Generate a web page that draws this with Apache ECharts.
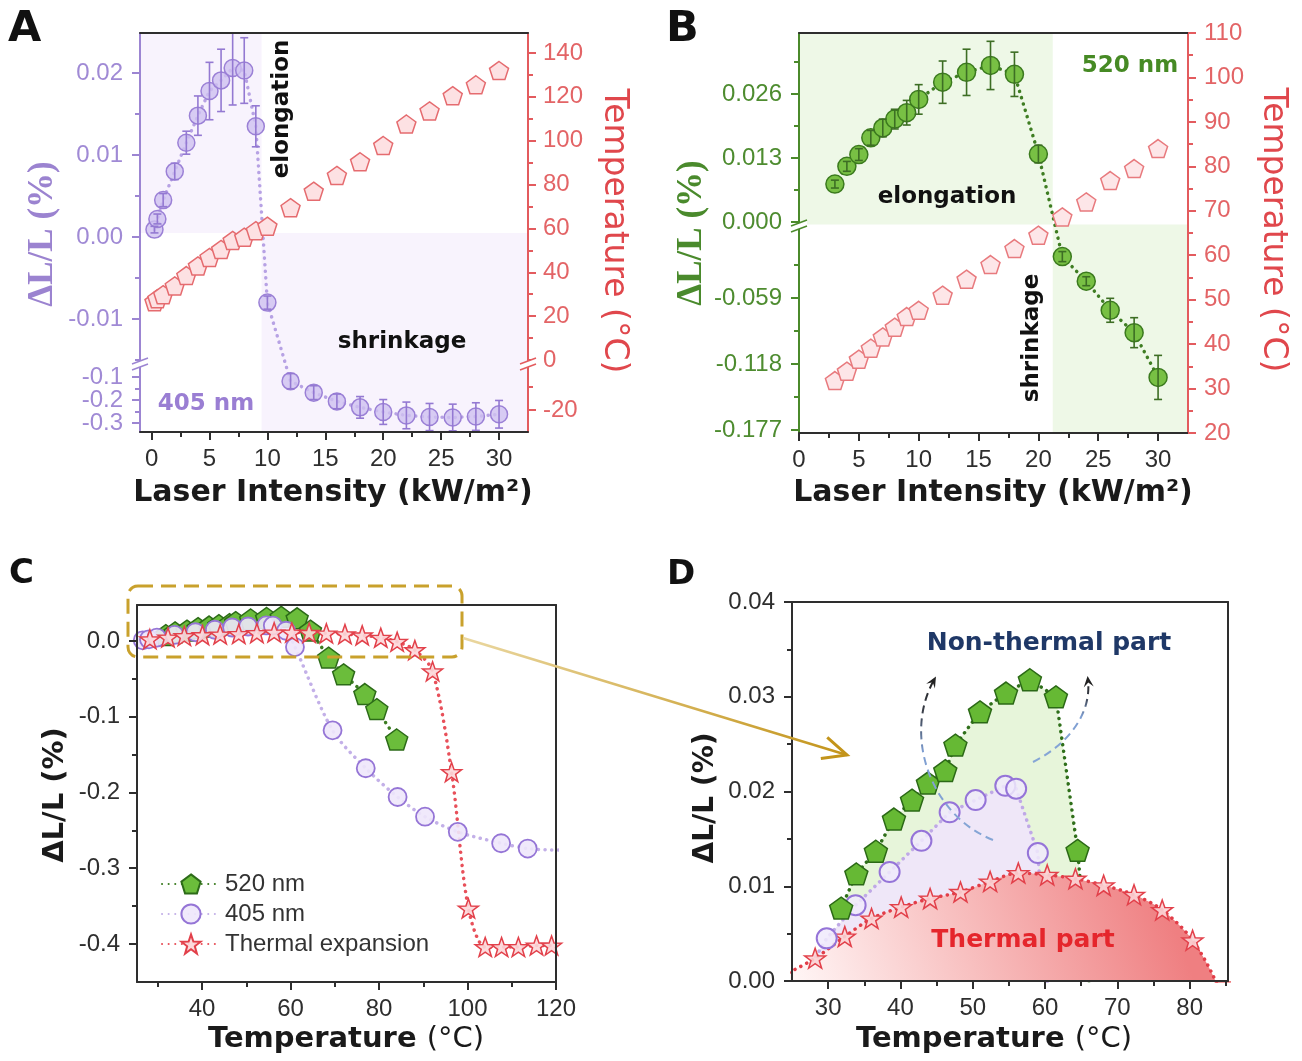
<!DOCTYPE html>
<html>
<head>
<meta charset="utf-8">
<title>Photothermal and non-thermal strain</title>
<script src="https://cdn.jsdelivr.net/npm/echarts@6.0.0/dist/echarts.min.js"></script>
<style>
  html, body { margin: 0; padding: 0; background: #ffffff; }
  #fig { width: 1302px; height: 1061px; }
</style>
</head>
<body>
<div id="fig"></div>
<script>
// ---------------- measured data ----------------
// 405 nm irradiation: laser intensity (kW/m2), strain ΔL/L (%), its error, film temperature (°C)
const intensity405 = [0.25, 0.5, 1, 2, 3, 4, 5, 6, 7, 8, 9, 10, 12, 14, 16, 18, 20, 22, 24, 26, 28, 30];
const strain405 = [0.0009, 0.0022, 0.0045, 0.0080, 0.0115, 0.0148, 0.0178, 0.0191, 0.0206, 0.0203, 0.0135, -0.0080,
  -0.118, -0.168, -0.206, -0.232, -0.252, -0.267, -0.274, -0.276, -0.272, -0.262];
const strainErr405 = [0.0004, 0.0006, 0.0008, 0.0010, 0.0014, 0.0024, 0.0035, 0.0038, 0.0045, 0.0040, 0.0025, 0.0008,
  0.033, 0.030, 0.032, 0.047, 0.054, 0.058, 0.059, 0.058, 0.060, 0.060];
const temp405 = [26.6, 28.0, 29.8, 33.8, 38.5, 42.9, 46.8, 50.4, 54.5, 56.0, 59.0, 61.0,
  69.5, 77.0, 84.2, 90.4, 97.8, 107.6, 113.6, 120.5, 125.5, 132.0];

// 520 nm irradiation
const intensity520 = [3, 4, 5, 6, 7, 8, 9, 10, 12, 14, 16, 18, 20, 22, 24, 26, 28, 30];
const strain520 = [0.0077, 0.0113, 0.0137, 0.0171, 0.0191, 0.0209, 0.0222, 0.0249, 0.0284, 0.0304, 0.0318, 0.0300,
  0.0138, -0.022, -0.044, -0.070, -0.090, -0.130];
const strainErr520 = [0.0008, 0.0010, 0.0012, 0.0015, 0.0018, 0.0020, 0.0025, 0.0030, 0.0043, 0.0047, 0.0049, 0.0045,
  0.0018, 0.0045, 0.0040, 0.0107, 0.0134, 0.0197];
const temp520 = [31.8, 33.9, 36.6, 39.1, 41.6, 43.8, 46.2, 47.6, 51.0, 54.6, 57.9, 61.5,
  64.5, 68.6, 72.0, 76.8, 79.5, 84.0];

// thermal expansion measured on a hot stage
const thermalTemp = [24.6, 28.2, 32.3, 36.0, 40.1, 44.1, 48.3, 52.4, 56.3, 60.3, 64.2, 68.1, 72.3, 76.2, 80.4,
  84.1, 88.1, 92.1, 96.4, 100.2, 104.0, 107.7, 111.5, 115.6, 119.0];
const thermalStrain = [0.0009, 0.0024, 0.0047, 0.0066, 0.0078, 0.0087, 0.0094, 0.0105, 0.0114, 0.0112, 0.0108, 0.0101,
  0.0091, 0.0075, 0.0043, -0.0010, -0.012, -0.040, -0.173, -0.353, -0.404, -0.404, -0.404, -0.402, -0.402];

// intensity / strain regimes shaded in panels A and B: [from, to, side (+1 elongation, -1 shrinkage)]
const regimes405 = [[-1, 9.5, 1], [9.5, 32.5, -1]];
const regimes520 = [[0, 21.2, 1], [21.2, 32.5, -1]];

// lowest temperature shown for the 405 nm points in the close-up
const closeUpFrom405 = 29;

// ---------------- tick values ----------------
const ticksIntensity = [0, 5, 10, 15, 20, 25, 30];
const minorIntensity = [2.5, 7.5, 12.5, 17.5, 22.5, 27.5];
const ticksStrainA = [-0.3, -0.2, -0.1, -0.01, 0, 0.01, 0.02];
const minorStrainA = [-0.25, -0.15, -0.015, -0.005, 0.005, 0.015];
const ticksTempA = [-20, 0, 20, 40, 60, 80, 100, 120, 140];
const minorTempA = [-10, 10, 30, 50, 70, 90, 110, 130];
const ticksStrainB = [-0.177, -0.118, -0.059, 0, 0.013, 0.026];
const minorStrainB = [-0.1475, -0.0885, -0.0295, 0.0065, 0.0195, 0.0325];
const ticksTempB = [20, 30, 40, 50, 60, 70, 80, 90, 100, 110];
const minorTempB = [25, 35, 45, 55, 65, 75, 85, 95, 105];
const ticksTempC = [40, 60, 80, 100, 120];
const minorTempC = [30, 50, 70, 90, 110];
const ticksStrainC = [-0.4, -0.3, -0.2, -0.1, 0];
const minorStrainC = [-0.35, -0.25, -0.15, -0.05];
const ticksTempD = [30, 40, 50, 60, 70, 80];
const minorTempD = [35, 45, 55, 65, 75, 85];
const ticksStrainD = [0, 0.01, 0.02, 0.03, 0.04];
const minorStrainD = [0.005, 0.015, 0.025, 0.035];

// ---------------- broken axes ----------------
// values above `cut` keep their units; values below are moved under the break and compressed by k
function makeBreak(cut, top, from, k) {
  return v => (v >= cut ? v : top - (from - v) * k);
}
const sqA = makeBreak(-0.03, -0.01561, -0.04783, 0.028049);   // panel A strain
const sqAT = makeBreak(-1, -2.28, -0.435, 1.0488);             // panel A temperature
const sqB = makeBreak(0, -0.002031, 0, 0.22722);               // panel B strain
const same = v => v;

// ---------------- styling ----------------
const SANS = '"Liberation Sans", Arial, sans-serif';
const HEAVY = '"DejaVu Sans", sans-serif';
const SERIF = '"Liberation Serif", "Times New Roman", serif';
const INK = '#2e2e2e';
const PURPLE = '#9c85d2';
const GREEN = '#4b8a2b';
const RED = '#e35b5e';
const PENTAGON = 'path://M10,0 L19.51,6.91 L15.88,18.09 L4.12,18.09 L0.49,6.91 Z';
const STAR = 'path://M10,0 L12.35,6.76 L19.51,6.91 L13.8,11.24 L15.88,18.09 L10,14 L4.12,18.09 L6.2,11.24 L0.49,6.91 L7.65,6.76 Z';
const DOTS = [0.1, 6.5];

const grids = [
  { left: 140, top: 33, width: 388, height: 399 },
  { left: 799, top: 33, width: 389, height: 400 },
  { left: 137, top: 605, width: 419, height: 377 },
  { left: 792, top: 602, width: 436, height: 379 }
].map(g => Object.assign({ show: false, containLabel: false, outerBoundsMode: 'none' }, g));

function fmtFactory(pairs) {
  return v => {
    let best = '', bd = Infinity;
    pairs.forEach(([d, t]) => { const e = Math.abs(d - v); if (e < bd) { bd = e; best = t; } });
    return best;
  };
}

// one axis; `labels` are [displayValue, text] pairs
function axis(o) {
  const labelVals = o.labels ? o.labels.map(p => p[0]) : [];
  return {
    type: 'value', gridIndex: o.grid, position: o.pos, min: o.min, max: o.max, z: 6,
    axisLine: { show: o.line !== false, onZero: false, lineStyle: { color: o.color, width: 2 } },
    axisTick: {
      show: !!o.ticks, inside: false, length: o.tickLen || 8,
      lineStyle: { color: o.color, width: 2 }, customValues: o.ticks || []
    },
    axisLabel: {
      show: !!o.labels, customValues: labelVals, formatter: o.labels ? fmtFactory(o.labels) : '',
      color: o.labelColor || INK, fontSize: 24, lineHeight: 16, fontFamily: SANS, margin: o.margin || 15,
      hideOverlap: false, showMinLabel: true, showMaxLabel: true
    },
    splitLine: { show: false }, minorTick: { show: false }, minorSplitLine: { show: false },
    silent: true
  };
}
const pairs = (vals, sq, fmt) => vals.map(v => [sq(v), fmt(v)]);
const fStrainA = v => (Math.abs(v) < 0.05 ? v.toFixed(2) : v.toFixed(1));

// x axes: for each panel a labelled bottom axis, a minor-tick axis and a plain top border
const X = [];
function xTrio(grid, min, max, ticks, minor) {
  X.push(axis({ grid, pos: 'bottom', min, max, color: INK, ticks, labels: ticks.map(t => [t, String(t)]), margin: 19 }));
  X.push(axis({ grid, pos: 'bottom', min, max, color: INK, ticks: minor, tickLen: 5, line: false }));
  X.push(axis({ grid, pos: 'top', min, max, color: INK }));
  return X.length - 3;
}
const xA = xTrio(0, -1, 32.5, ticksIntensity, minorIntensity);
const xB = xTrio(1, 0, 32.5, ticksIntensity, minorIntensity);
const xC = xTrio(2, 25.3, 120, ticksTempC, minorTempC);
const xD = xTrio(3, 25, 85.3, ticksTempD, minorTempD);

// y axes: a labelled major-tick axis plus a minor-tick axis; `spare` labels are carried by the
// minor axis so that tightly packed labels below a break are all kept
const Y = [];
function yAxisPair(grid, pos, min, max, ticks, minor, labels, color, labelColor, margin, spare) {
  const keep = spare ? labels.filter(p => !spare.some(s => s[0] === p[0])) : labels;
  Y.push(axis({ grid, pos, min, max, color, ticks, labels: keep, labelColor, margin }));
  Y.push(axis({ grid, pos, min, max, color, ticks: minor, tickLen: 5, line: false, labels: spare, labelColor, margin }));
  return Y.length - 2;
}
const labelsStrainA = pairs(ticksStrainA, sqA, fStrainA);
const yA = yAxisPair(0, 'left', -0.02378, 0.024878, ticksStrainA.map(sqA), minorStrainA.map(sqA),
  labelsStrainA, PURPLE, '#a08ad5', 17, labelsStrainA.filter(p => p[1] === '-0.2'));
const yAT = yAxisPair(0, 'right', -32.83, 149.12, ticksTempA.map(sqAT), minorTempA.map(sqAT),
  pairs(ticksTempA, sqAT, v => String(v)), RED, '#e36466', 15);
const yB = yAxisPair(1, 'left', -0.04286, 0.038391, ticksStrainB.map(sqB), minorStrainB.map(sqB),
  pairs(ticksStrainB, sqB, v => v.toFixed(3)), GREEN, '#4e8c30', 17);
const yBT = yAxisPair(1, 'right', 20, 110, ticksTempB, minorTempB,
  pairs(ticksTempB, same, v => String(v)), RED, '#e36466', 16);
const yC = yAxisPair(2, 'left', -0.4502, 0.0475, ticksStrainC, minorStrainC,
  pairs(ticksStrainC, same, v => v.toFixed(1)), INK, INK, 17);
Y.push(axis({ grid: 2, pos: 'right', min: -0.4502, max: 0.0475, color: INK }));
const yD = yAxisPair(3, 'left', 0, 0.04, ticksStrainD, minorStrainD,
  pairs(ticksStrainD, same, v => v.toFixed(2)), INK, INK, 17);
Y.push(axis({ grid: 3, pos: 'right', min: 0, max: 0.04, color: INK }));

// ---------------- series helpers ----------------
function regimeSeries(xi, yi, regimes, splitValue, color) {
  return {
    type: 'custom', xAxisIndex: xi, yAxisIndex: yi, z: 1, silent: true, clip: true,
    data: regimes,
    renderItem(params, api) {
      const cs = params.coordSys;
      const a = api.coord([api.value(0), splitValue]);
      const b = api.coord([api.value(1), splitValue]);
      const up = api.value(2) > 0;
      const y0 = up ? cs.y : a[1];
      const y1 = up ? a[1] : cs.y + cs.height;
      return { type: 'rect', shape: { x: a[0], y: y0, width: b[0] - a[0], height: y1 - y0 }, style: { fill: color } };
    }
  };
}

function errorSeries(xi, yi, xs, vs, es, sq, color) {
  return {
    type: 'custom', xAxisIndex: xi, yAxisIndex: yi, z: 4, silent: true, clip: true,
    data: xs.map((x, i) => [x, vs[i], es[i]]),
    renderItem(params, api) {
      const x = api.value(0), v = api.value(1), e = api.value(2);
      const a = api.coord([x, sq(v + e)]);
      const b = api.coord([x, sq(v - e)]);
      const st = { stroke: color, lineWidth: 1.6 };
      return {
        type: 'group', children: [
          { type: 'line', shape: { x1: a[0], y1: a[1], x2: b[0], y2: b[1] }, style: st },
          { type: 'line', shape: { x1: a[0] - 4, y1: a[1], x2: a[0] + 4, y2: a[1] }, style: st },
          { type: 'line', shape: { x1: b[0] - 4, y1: b[1], x2: b[0] + 4, y2: b[1] }, style: st }
        ]
      };
    }
  };
}

function curve(name, xi, yi, xs, vs, o) {
  return {
    type: 'line', name, xAxisIndex: xi, yAxisIndex: yi, z: o.z || 3, clip: true,
    data: xs.map((x, i) => [x, vs[i]]),
    symbol: o.symbol, symbolSize: o.size, symbolKeepAspect: true, showSymbol: o.symbol !== 'none',
    smooth: o.smooth || false,
    itemStyle: { color: o.fill, borderColor: o.stroke, borderWidth: o.bw || 1.5, opacity: 1 },
    lineStyle: o.noLine ? { width: 0, opacity: 0 } : { color: o.lineColor, width: 3.5, type: DOTS, cap: 'round' },
    areaStyle: o.area ? { color: o.area, opacity: 1 } : undefined,
    emphasis: { disabled: true }, silent: true
  };
}

function scatter(name, xi, yi, xs, vs, o) {
  const data = [];
  xs.forEach((x, i) => { if (!o.from || x >= o.from) data.push([x, vs[i]]); });
  return {
    type: 'scatter', name, xAxisIndex: xi, yAxisIndex: yi, z: o.z || 3, clip: true,
    data,
    symbol: o.symbol, symbolSize: o.size, symbolKeepAspect: true,
    itemStyle: { color: o.fill, borderColor: o.stroke, borderWidth: o.bw || 1.5, opacity: 1 },
    emphasis: { disabled: true }, silent: true
  };
}

const s405 = { symbol: 'circle', fill: 'rgba(206,192,240,0.8)', stroke: '#9b80d6', lineColor: '#b7a2e4' };
const s520 = { symbol: 'circle', fill: '#78c044', stroke: '#3b7a1e', lineColor: '#3e7d22' };
const sTempA = { symbol: PENTAGON, size: 19, fill: '#fde1e3', stroke: '#e56b6f' };
const sTempB = { symbol: PENTAGON, size: 19, fill: '#fde6e8', stroke: '#e87a7e' };

const thermalGradient = {
  type: 'linear', global: true, x: 800, y: 990, x2: 1150, y2: 860,
  colorStops: [{ offset: 0, color: '#fff5f5' }, { offset: 0.45, color: '#f8c0c0' }, { offset: 1, color: '#ef7f81' }]
};

const series = [
  // ---- C (first, so the legend takes its icons from here) ----
  curve('520 nm', xC, yC, temp520, strain520, { symbol: PENTAGON, size: 22, fill: '#6bbd3b', stroke: '#2c6b18', lineColor: '#3c7d22' }),
  curve('405 nm', xC, yC, temp405, strain405, { symbol: 'circle', size: 18, fill: 'rgba(238,231,251,0.9)', stroke: '#9575d6', bw: 1.8, lineColor: '#c3b0e8', smooth: 0.3 }),
  curve('Thermal expansion', xC, yC, thermalTemp, thermalStrain, { symbol: STAR, size: 20, fill: 'rgba(252,214,216,0.9)', stroke: '#e2404a', lineColor: '#e8505a', smooth: 0.3 }),

  // ---- A ----
  regimeSeries(xA, yA, regimes405, sqA(0.0005), '#f8f3fd'),
  curve('strain 405 nm', xA, yA, intensity405, strain405.map(sqA), Object.assign({ size: 17 }, s405)),
  errorSeries(xA, yA, intensity405, strain405, strainErr405, sqA, '#9479d2'),
  scatter('temperature 405 nm', xA, yAT, intensity405, temp405.map(sqAT), sTempA),

  // ---- B ----
  regimeSeries(xB, yB, regimes520, -0.0005, '#eef8e7'),
  curve('strain 520 nm', xB, yB, intensity520, strain520.map(sqB), Object.assign({ size: 18 }, s520)),
  errorSeries(xB, yB, intensity520, strain520, strainErr520, sqB, '#3d6e24'),
  scatter('temperature 520 nm', xB, yBT, intensity520, temp520, sTempB),

  // ---- D: light fills, dotted links, the thermal part on top, then the points ----
  curve('520 nm fill', xD, yD, temp520, strain520, { symbol: 'none', noLine: true, area: '#e7f5da', z: 1 }),
  curve('405 nm fill', xD, yD, temp405, strain405, { symbol: 'none', noLine: true, area: '#efe7f8', z: 1 }),
  curve('520 nm link', xD, yD, temp520, strain520, { symbol: 'none', lineColor: '#2f6f1a', z: 1 }),
  curve('405 nm link', xD, yD, temp405, strain405, { symbol: 'none', lineColor: '#bfa9e6', z: 1 }),
  curve('thermal part', xD, yD, thermalTemp, thermalStrain, { symbol: 'none', lineColor: '#e23d48', area: thermalGradient, z: 2, smooth: 0.3 }),
  scatter('thermal points', xD, yD, thermalTemp, thermalStrain, { symbol: STAR, size: 21, fill: 'rgba(251,210,212,0.9)', stroke: '#e2404a', z: 3 }),
  scatter('405 nm points', xD, yD, temp405, strain405, { symbol: 'circle', size: 20, fill: 'rgba(240,234,251,0.85)', stroke: '#9574d8', bw: 2, z: 3, from: closeUpFrom405 }),
  scatter('520 nm points', xD, yD, temp520, strain520, { symbol: PENTAGON, size: 23, fill: '#66b934', stroke: '#2b6916', z: 3 })
];

// ---------------- annotations ----------------
const graphics = [];
function txt(x, y, text, font, fill, rot, align) {
  graphics.push({
    type: 'text', x, y, rotation: rot || 0, z: 100, silent: true,
    style: { text, font, fill, align: align || 'center', textAlign: align || 'center', verticalAlign: 'middle', textVerticalAlign: 'middle' }
  });
}
function richTxt(x, y, bold, normal, size, fill, rot) {
  graphics.push({
    type: 'text', x, y, rotation: rot || 0, z: 100, silent: true,
    style: {
      text: '{b|' + bold + '}{n|' + normal + '}', align: 'center', textAlign: 'center', verticalAlign: 'middle', textVerticalAlign: 'middle',
      rich: {
        b: { fontFamily: HEAVY, fontWeight: 'bold', fontSize: size, fill },
        n: { fontFamily: HEAVY, fontWeight: 'normal', fontSize: size, fill }
      }
    }
  });
}
const UP = Math.PI / 2, DOWN = -Math.PI / 2;

// panel letters
txt(8, 30, 'A', 'bold 43px ' + HEAVY, '#111', 0, 'left');
txt(666, 30, 'B', 'bold 43px ' + HEAVY, '#111', 0, 'left');
txt(9, 574, 'C', 'bold 34px ' + HEAVY, '#111', 0, 'left');
txt(667, 575, 'D', 'bold 34px ' + HEAVY, '#111', 0, 'left');

// axis titles
txt(43, 234, 'ΔL/L (%)', 'bold 35px ' + SERIF, '#9b83d0', UP);
txt(614, 231, 'Temperature (°C)', '33px ' + HEAVY, '#e0474c', DOWN);
txt(333, 493, 'Laser Intensity (kW/m²)', 'bold 30px ' + HEAVY, '#1a1a1a');
txt(692, 233, 'ΔL/L (%)', 'bold 35px ' + SERIF, '#4a8a2c', UP);
txt(1273, 230, 'Temperature (°C)', '33px ' + HEAVY, '#e0474c', DOWN);
txt(993, 493, 'Laser Intensity (kW/m²)', 'bold 30px ' + HEAVY, '#1a1a1a');
txt(55, 795, 'ΔL/L (%)', 'bold 29px ' + HEAVY, '#1a1a1a', UP);
richTxt(346, 1039, 'Temperature ', '(°C)', 29, '#1a1a1a');
txt(706, 798, 'ΔL/L (%)', 'bold 28px ' + HEAVY, '#1a1a1a', UP);
richTxt(994, 1039, 'Temperature ', '(°C)', 29, '#1a1a1a');

// regime labels
txt(282, 109, 'elongation', 'bold 23px ' + HEAVY, '#111', UP);
txt(402, 342, 'shrinkage', 'bold 23px ' + HEAVY, '#111');
txt(206, 404, '405 nm', 'bold 23px ' + HEAVY, '#9a7ed3');
txt(1130, 66, '520 nm', 'bold 23px ' + HEAVY, '#468a24');
txt(947, 197, 'elongation', 'bold 23px ' + HEAVY, '#111');
txt(1032, 338, 'shrinkage', 'bold 23px ' + HEAVY, '#111', UP);
txt(1049, 643, 'Non-thermal part', 'bold 25px ' + HEAVY, '#1f3867');
txt(1023, 940, 'Thermal part', 'bold 25px ' + HEAVY, '#e5262c');

// axis break marks
function breakMark(x, y, color) {
  graphics.push({ type: 'polygon', z: 101, silent: true, shape: { points: [[x - 8, y + 2], [x + 8, y - 4], [x + 8, y + 2], [x - 8, y + 8]] }, style: { fill: '#ffffff' } });
  graphics.push({ type: 'line', z: 102, silent: true, shape: { x1: x - 8, y1: y + 2, x2: x + 8, y2: y - 4 }, style: { stroke: color, lineWidth: 1.6 } });
  graphics.push({ type: 'line', z: 102, silent: true, shape: { x1: x - 8, y1: y + 8, x2: x + 8, y2: y + 2 }, style: { stroke: color, lineWidth: 1.6 } });
}
breakMark(140, 362, PURPLE);
breakMark(528, 362, RED);
breakMark(799, 224, GREEN);

// zoom box in C and the arrow leading to D
graphics.push({ type: 'rect', z: 100, silent: true, shape: { x: 128, y: 586, width: 334, height: 71, r: 10 },
  style: { fill: 'none', stroke: '#c9a12c', lineWidth: 3, lineDash: [15, 8] } });
const arrowFrom = [463, 638], arrowTo = [847, 755];
const goldGrad = { type: 'linear', global: true, x: arrowFrom[0], y: arrowFrom[1], x2: arrowTo[0], y2: arrowTo[1],
  colorStops: [{ offset: 0, color: '#ead7a0' }, { offset: 1, color: '#c3941a' }] };
graphics.push({ type: 'line', z: 100, silent: true, shape: { x1: arrowFrom[0], y1: arrowFrom[1], x2: arrowTo[0], y2: arrowTo[1] },
  style: { stroke: goldGrad, lineWidth: 2.5 } });
(function chevron() {
  const dx = arrowTo[0] - arrowFrom[0], dy = arrowTo[1] - arrowFrom[1], L = Math.hypot(dx, dy);
  const ux = dx / L, uy = dy / L, px = -uy, py = ux, s = 24, w = 11;
  graphics.push({ type: 'polyline', z: 100, silent: true,
    shape: { points: [[arrowTo[0] - ux * s + px * w, arrowTo[1] - uy * s + py * w], arrowTo, [arrowTo[0] - ux * s - px * w, arrowTo[1] - uy * s - py * w]] },
    style: { stroke: '#c3941a', lineWidth: 3, fill: 'none' } });
})();

// curved dashed arrows in D
function dashedArrow(p0, c1, c2, p3) {
  const grad = { type: 'linear', global: true, x: 0, y: p0[1], x2: 0, y2: p3[1],
    colorStops: [{ offset: 0, color: '#86a6d6' }, { offset: 0.55, color: '#7f9fd2' }, { offset: 0.8, color: '#3a3f4a' }, { offset: 1, color: '#222222' }] };
  graphics.push({ type: 'bezierCurve', z: 100, silent: true,
    shape: { x1: p0[0], y1: p0[1], cpx1: c1[0], cpy1: c1[1], cpx2: c2[0], cpy2: c2[1], x2: p3[0], y2: p3[1] },
    style: { stroke: grad, lineWidth: 2, lineDash: [8, 5], fill: 'none' } });
  const dx = p3[0] - c2[0], dy = p3[1] - c2[1], L = Math.hypot(dx, dy);
  const ux = dx / L, uy = dy / L, px = -uy, py = ux, s = 11, w = 5;
  const tip = [p3[0] + ux * 4, p3[1] + uy * 4];
  graphics.push({ type: 'polygon', z: 101, silent: true,
    shape: { points: [tip, [tip[0] - ux * s + px * w, tip[1] - uy * s + py * w], [tip[0] - ux * s * 0.6, tip[1] - uy * s * 0.6], [tip[0] - ux * s - px * w, tip[1] - uy * s - py * w]] },
    style: { fill: '#222222' } });
}
dashedArrow([993, 840], [930, 815], [903, 735], [934, 680]);
dashedArrow([1033, 762], [1063, 747], [1092, 718], [1088, 680]);

// ---------------- chart ----------------
const chart = echarts.init(document.getElementById('fig'), null, { renderer: 'canvas' });
chart.setOption({
  animation: false,
  backgroundColor: '#ffffff',
  textStyle: { fontFamily: SANS },
  grid: grids,
  xAxis: X,
  yAxis: Y,
  legend: {
    data: ['520 nm', '405 nm', 'Thermal expansion'],
    orient: 'vertical', left: 156, top: 867, itemWidth: 58, itemHeight: 24, itemGap: 6,
    selectedMode: false, textStyle: { fontSize: 24, fontFamily: SANS, color: '#333333' }
  },
  series,
  graphic: { elements: graphics }
});
</script>
</body>
</html>
